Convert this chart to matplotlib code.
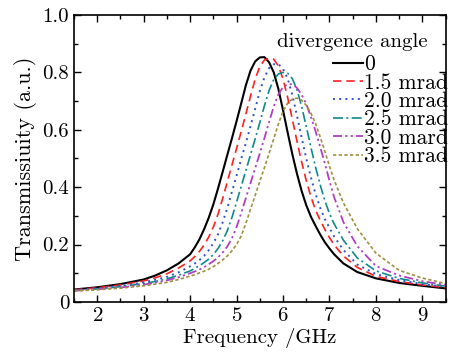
import matplotlib
matplotlib.use("Agg")
import matplotlib.pyplot as plt
from matplotlib.ticker import MultipleLocator, FixedLocator, FixedFormatter

plt.rcParams["font.family"] = ["cmr10", "DejaVu Serif"]
plt.rcParams["mathtext.fontset"] = "cm"
plt.rcParams["axes.formatter.use_mathtext"] = True

# frequency grid (GHz) shared by all curves
freq = [1.5, 2.0, 2.5, 3.0, 3.25, 3.5, 3.75, 4.0, 4.1, 4.2, 4.3, 4.4, 4.5, 4.6, 4.7,
        4.8, 4.9, 5.0, 5.1, 5.2, 5.3, 5.4, 5.5, 5.6, 5.7, 5.8, 5.9, 6.0, 6.1, 6.2,
        6.3, 6.4, 6.5, 6.6, 6.7, 6.8, 6.9, 7.0, 7.1, 7.3, 7.6, 8.0, 8.5, 9.0, 9.5]

t_0 = [0.043, 0.051, 0.062, 0.078, 0.092, 0.110, 0.134, 0.166, 0.190, 0.218, 0.253,
       0.293, 0.340, 0.395, 0.453, 0.512, 0.570, 0.630, 0.692, 0.755, 0.806, 0.838,
       0.852, 0.853, 0.835, 0.800, 0.742, 0.668, 0.590, 0.515, 0.447, 0.387, 0.337,
       0.297, 0.265, 0.235, 0.208, 0.186, 0.166, 0.134, 0.104, 0.082, 0.066, 0.056, 0.047]
t_15 = [0.042, 0.049, 0.059, 0.073, 0.084, 0.098, 0.118, 0.143, 0.158, 0.176, 0.198,
        0.226, 0.261, 0.306, 0.360, 0.418, 0.477, 0.535, 0.594, 0.655, 0.717, 0.776,
        0.820, 0.843, 0.849, 0.846, 0.822, 0.777, 0.712, 0.637, 0.560, 0.488, 0.423,
        0.367, 0.320, 0.284, 0.253, 0.224, 0.199, 0.160, 0.120, 0.089, 0.071, 0.059, 0.050]
t_20 = [0.041, 0.047, 0.056, 0.068, 0.077, 0.087, 0.103, 0.124, 0.134, 0.146, 0.160,
        0.180, 0.205, 0.236, 0.277, 0.327, 0.384, 0.440, 0.498, 0.554, 0.612, 0.673,
        0.734, 0.783, 0.815, 0.828, 0.829, 0.812, 0.778, 0.721, 0.649, 0.573, 0.500,
        0.434, 0.376, 0.328, 0.289, 0.258, 0.228, 0.181, 0.130, 0.097, 0.076, 0.062, 0.052]
t_25 = [0.040, 0.045, 0.053, 0.064, 0.071, 0.080, 0.093, 0.108, 0.117, 0.126, 0.137,
        0.149, 0.165, 0.186, 0.213, 0.248, 0.294, 0.348, 0.403, 0.458, 0.513, 0.568,
        0.625, 0.684, 0.737, 0.775, 0.794, 0.800, 0.797, 0.778, 0.740, 0.682, 0.611,
        0.539, 0.470, 0.408, 0.353, 0.308, 0.272, 0.215, 0.153, 0.108, 0.082, 0.066, 0.055]
t_30 = [0.039, 0.044, 0.050, 0.060, 0.067, 0.075, 0.086, 0.100, 0.106, 0.113, 0.121,
        0.131, 0.142, 0.155, 0.172, 0.193, 0.222, 0.261, 0.310, 0.362, 0.414, 0.466,
        0.518, 0.571, 0.627, 0.681, 0.723, 0.749, 0.758, 0.759, 0.746, 0.722, 0.690,
        0.645, 0.595, 0.540, 0.483, 0.422, 0.365, 0.278, 0.194, 0.125, 0.092, 0.072, 0.059]
t_35 = [0.038, 0.042, 0.048, 0.056, 0.062, 0.068, 0.078, 0.090, 0.095, 0.101, 0.107,
        0.114, 0.123, 0.134, 0.146, 0.160, 0.178, 0.200, 0.230, 0.274, 0.323, 0.371,
        0.420, 0.468, 0.518, 0.569, 0.620, 0.664, 0.693, 0.706, 0.710, 0.703, 0.685,
        0.658, 0.622, 0.575, 0.525, 0.473, 0.425, 0.345, 0.255, 0.170, 0.110, 0.083, 0.064]

labels = ["0", "1.5 mrad", "2.0 mrad", "2.5 mrad", "3.0 mard", "3.5 mrad"]
series = [t_0, t_15, t_20, t_25, t_30, t_35]
colors = ["black", "#ff2020", "#3050d0", "#108a88", "#b040c0", "#a09040"]
styles = ["-", (0, (5, 3)), (0, (1, 2.2)), (0, (6, 2, 1.2, 2)),
          (0, (5, 1.8, 1.2, 1.8, 1.2, 1.8)), (0, (2, 1.4))]
widths = [1.5, 1.2, 1.4, 1.2, 1.3, 1.2]

fig = plt.figure(figsize=(4.57, 3.56), dpi=100)
ax = fig.add_axes([0.162, 0.152, 0.813, 0.806])

for ys, lab, c, ls, lw in zip(series, labels, colors, styles, widths):
    ax.plot(freq, ys, color=c, linestyle=ls, linewidth=lw, label=lab)

ax.set_xlim(1.5, 9.5)
ax.set_ylim(0, 1.0)
ax.xaxis.set_major_locator(MultipleLocator(1))
ax.xaxis.set_minor_locator(MultipleLocator(0.5))
ax.yaxis.set_major_locator(FixedLocator([0, 0.2, 0.4, 0.6, 0.8, 1.0]))
ax.yaxis.set_major_formatter(FixedFormatter(["0", "0.2", "0.4", "0.6", "0.8", "1.0"]))
ax.yaxis.set_minor_locator(MultipleLocator(0.1))
ax.tick_params(which="both", direction="in", top=True, right=True, labelsize=15, width=1)
ax.tick_params(which="major", length=5)
ax.tick_params(which="minor", length=3)
for s in ax.spines.values():
    s.set_linewidth(1.2)

ax.set_xlabel("Frequency /GHz", fontsize=15, labelpad=2)
ax.set_ylabel("Transmissiuity (a.u.)", fontsize=16, labelpad=4)

ax.text(0.546, 0.905, "divergence angle", transform=ax.transAxes, fontsize=15,
        ha="left", va="center")
ax.legend(loc="upper left", bbox_to_anchor=(0.697, 0.862), frameon=False, fontsize=15.5,
          handlelength=1.4, handletextpad=0.05, labelspacing=-0.05, borderpad=0.0,
          borderaxespad=0.0)

fig.savefig("out.png", dpi=100)
